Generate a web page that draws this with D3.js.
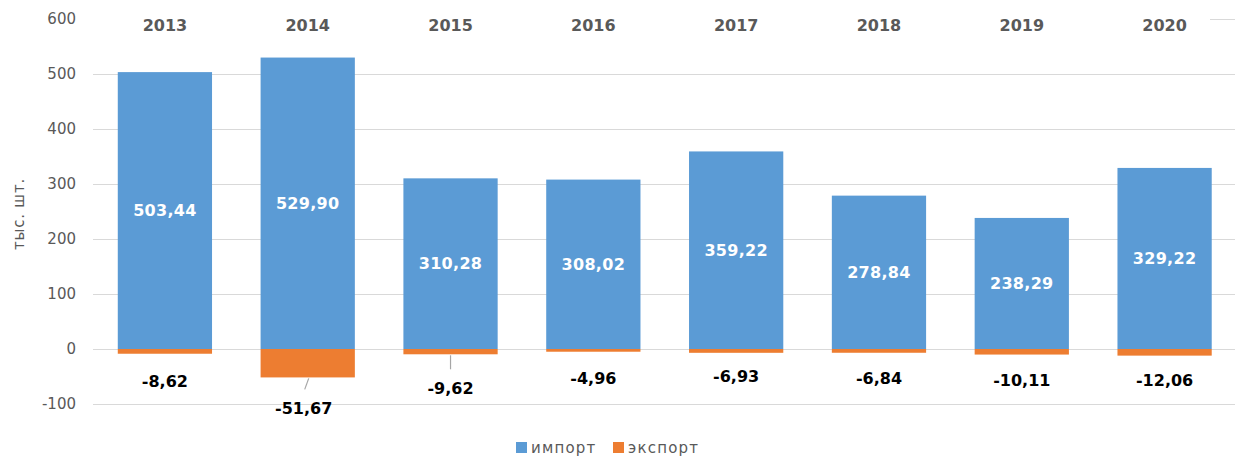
<!DOCTYPE html>
<html><head><meta charset="utf-8">
<script src="https://cdn.jsdelivr.net/npm/d3@7"></script>
<style>html,body{margin:0;padding:0;background:#fff;}svg{display:block;}</style>
</head><body>
<svg id="chart" width="1235" height="459"></svg>
<script>
const years = ["2013","2014","2015","2016","2017","2018","2019","2020"];
const importValues = [503.44, 529.90, 310.28, 308.02, 359.22, 278.84, 238.29, 329.22];
const exportValues = [-8.62, -51.67, -9.62, -4.96, -6.93, -6.84, -10.11, -12.06];
const yTicks = [-100, 0, 100, 200, 300, 400, 500, 600];
const seriesNames = ["импорт", "экспорт"];
const colors = ["#5B9BD5", "#ED7D31"];
// layout of export labels (moved by hand in the original)
const exportLabelDy = [28, 31, 34, 27, 24, 26, 26, 25];
const exportLabelDx = [0, -4, 0, 0, 0, 0, 0, 0];
const leaderYears = ["2014", "2015"];

const fmt = v => v.toFixed(2).replace(".", ",");
const svg = d3.select("#chart");
const x = d3.scaleBand().domain(years).range([93.5, 1236]).paddingInner(0.34).paddingOuter(0.17);
const y = d3.scaleLinear().domain([-100, 600]).range([404, 19]);

// gridlines
svg.append("g").selectAll("line").data(yTicks).join("line")
  .attr("x1", d => d === 600 ? 1210 : 93).attr("x2", 1235)
  .attr("y1", d => Math.round(y(d)) + 0.5).attr("y2", d => Math.round(y(d)) + 0.5)
  .attr("stroke", "#D9D9D9").attr("stroke-width", 1);

// y tick labels
svg.append("g").selectAll("text").data(yTicks).join("text")
  .attr("x", 76).attr("y", d => y(d)).attr("dy", "0.35em")
  .attr("text-anchor", "end").attr("font-family", "DejaVu Sans").attr("font-size", 15)
  .attr("fill", "#595959").text(d => d);

// y title
svg.append("text").attr("transform", "translate(24,214) rotate(-90)")
  .attr("text-anchor", "middle").attr("font-family", "DejaVu Sans").attr("font-size", 15)
  .attr("letter-spacing", 0.8).attr("fill", "#595959").text("тыс. шт.");

// year labels (top)
svg.append("g").selectAll("text").data(years).join("text")
  .attr("x", d => x(d) + x.bandwidth() / 2).attr("y", 25).attr("dy", "0.35em")
  .attr("text-anchor", "middle").attr("font-family", "DejaVu Sans").attr("font-weight", "bold")
  .attr("font-size", 16).attr("fill", "#595959").text(d => d);

// import bars
svg.append("g").selectAll("rect").data(years).join("rect")
  .attr("x", d => x(d)).attr("width", x.bandwidth())
  .attr("y", (d, i) => y(importValues[i])).attr("height", (d, i) => y(0) - y(importValues[i]))
  .attr("fill", colors[0]);

// export bars
svg.append("g").selectAll("rect").data(years).join("rect")
  .attr("x", d => x(d)).attr("width", x.bandwidth())
  .attr("y", y(0)).attr("height", (d, i) => y(exportValues[i]) - y(0))
  .attr("fill", colors[1]);

// import labels
svg.append("g").selectAll("text").data(years).join("text")
  .attr("x", d => x(d) + x.bandwidth() / 2)
  .attr("y", (d, i) => (y(importValues[i]) + y(0)) / 2).attr("dy", "0.35em")
  .attr("text-anchor", "middle").attr("font-family", "DejaVu Sans").attr("font-weight", "bold")
  .attr("font-size", 16).attr("letter-spacing", 0.3).attr("fill", "#fff").text((d, i) => fmt(importValues[i]));

// leader lines
years.forEach((d, i) => {
  if (!leaderYears.includes(d)) return;
  const cx = x(d) + x.bandwidth() / 2 + exportLabelDx[i];
  const yb = y(exportValues[i]);
  const ly = yb + exportLabelDy[i];
  svg.append("line")
    .attr("x1", d === "2014" ? cx + 5 : cx).attr("y1", yb + 1)
    .attr("x2", cx + (d === "2014" ? 1 : 0)).attr("y2", ly - 19)
    .attr("stroke", "#A6A6A6").attr("stroke-width", 1.2);
});

// export labels
svg.append("g").selectAll("text").data(years).join("text")
  .attr("x", (d, i) => x(d) + x.bandwidth() / 2 + exportLabelDx[i])
  .attr("y", (d, i) => y(exportValues[i]) + exportLabelDy[i]).attr("dy", "0.35em")
  .attr("text-anchor", "middle").attr("font-family", "DejaVu Sans").attr("font-weight", "bold")
  .attr("font-size", 16).attr("fill", "#000").text((d, i) => fmt(exportValues[i]));

// legend
const legendX = [516, 613];
const lg = svg.append("g");
seriesNames.forEach((n, i) => {
  lg.append("rect").attr("x", legendX[i]).attr("y", 442).attr("width", 11).attr("height", 11).attr("fill", colors[i]);
  lg.append("text").attr("x", legendX[i] + 15).attr("y", 447.5).attr("dy", "0.35em")
    .attr("font-family", "DejaVu Sans").attr("font-size", 15).attr("letter-spacing", 1.2)
    .attr("fill", "#595959").text(n);
});
</script>
</body></html>
